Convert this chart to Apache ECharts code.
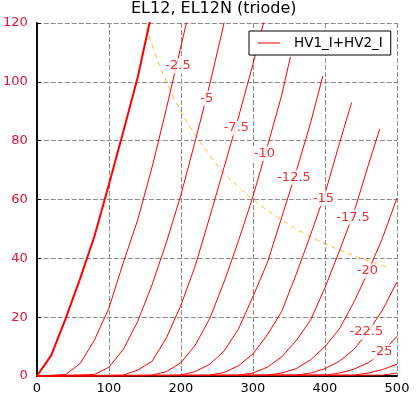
<!DOCTYPE HTML>
<html>
<head>
<meta charset="utf-8">
<title>EL12, EL12N (triode)</title>
<script src="https://cdn.jsdelivr.net/npm/echarts@6/dist/echarts.min.js"></script>
<style>
    body, div {margin: 0; padding: 0; border: 0;}
    #graphic {width: 416px; height: 398px;}
</style>
</head>
<body>
<div id="graphic"></div>
<script type="text/javascript">
// Ia (mA) vs Va (V), one curve per grid voltage
var vg_0    = [[0,0],[20,7],[40,19.5],[60,33],[80,47.5],[100,65],[120,83],[140,101.5],[160,124]];
var vg_2_5  = [[0,0],[40,0.5],[60,4.2],[80,12.2],[100,23],[120,38.5],[140,53],[160,71],[180,91],[200,112],[220,133]];
var vg_5    = [[0,0],[80,0.5],[100,3],[120,9],[140,18.5],[160,31],[180,45.5],[200,61.5],[220,80],[240,99],[260,120],[280,141]];
var vg_7_5  = [[0,0],[120,0.3],[140,2],[160,5],[180,13],[200,24],[220,37.5],[240,54],[260,71],[280,88],[300,106],[320,125]];
var vg_10   = [[0,0],[160,0.3],[180,1.5],[200,4.5],[220,10.5],[240,19.5],[260,32],[280,46],[300,61],[320,78],[340,95.5],[352,108.5]];
var vg_12_5 = [[0,0],[200,0.3],[220,1.5],[240,4],[260,8.5],[280,16],[300,27],[320,38.5],[340,54],[360,69.5],[380,86],[397,102]];
var vg_15   = [[0,0],[240,0.3],[260,1.2],[280,3.5],[300,7.5],[320,14],[340,22],[360,34.5],[380,48],[400,62],[420,79],[437,93]];
var vg_17_5 = [[0,0],[280,0.3],[300,1],[320,3],[340,6.5],[360,12],[380,19],[400,30],[420,42.5],[440,55.5],[460,71.5],[476,84]];
var vg_20   = [[0,0],[320,0.3],[340,1],[360,2.5],[380,5.5],[400,10],[420,16],[440,25],[460,35.5],[480,47],[500,60.5]];
var vg_22_5 = [[0,0],[360,0.3],[380,1],[400,2.5],[420,5],[440,9],[460,15],[480,22.5],[500,32]];
var vg_25   = [[0,0],[400,0.3],[420,1],[440,2.3],[460,4.5],[480,8],[500,13.5]];
var vg_27_5 = [[0,0],[440,0.3],[460,1],[480,2.2],[500,4]];
var vg_30   = [[0,0],[480,0.3],[500,1]];

var curves = [vg_0, vg_2_5, vg_5, vg_7_5, vg_10, vg_12_5, vg_15, vg_17_5, vg_20, vg_22_5, vg_25, vg_27_5, vg_30];

// contour labels: [Va, Ia, text]
var curveLabels = [
    [196, 105.4, '-2.5'], [236, 94.3, '-5'], [277, 84.3, '-7.5'], [316, 75.6, '-10'],
    [357, 67.6, '-12.5'], [398, 60.3, '-15'], [439, 54, '-17.5'], [459, 35.7, '-20'],
    [457.5, 15, '-22.5'], [479, 8.2, '-25']
];

// max anode dissipation
var paMax = [[152,118.5],[160,112.5],[180,100],[200,90],[220,82],[240,75],[260,69],[280,64.3],[300,60],
    [320,56.3],[340,53],[360,50],[380,47.4],[400,45],[420,42.9],[440,40.9],[460,39.1],[485,37.1]];

var xTicks = [0, 100, 200, 300, 400, 500];
var yTicks = [0, 20, 40, 60, 80, 100, 120];

var font = 'DejaVu Sans';
var series = [];
curves.forEach(function (c, i) {
    series.push({
        name: 'HV1_I+HV2_I',
        type: 'line',
        data: c,
        symbol: 'none',
        clip: true,
        z: 3,
        itemStyle: {color: 'red'},
        lineStyle: {color: 'red', width: i == 0 ? 2 : 1}
    });
});
series.push({
    name: 'Pa',
    type: 'line',
    data: paMax,
    symbol: 'none',
    smooth: true,
    z: 2,
    lineStyle: {color: '#ffa500', width: 1, type: [5, 4], opacity: 0.8}
});
series.push({
    name: 'labels',
    type: 'scatter',
    data: curveLabels,
    symbolSize: 0,
    z: 5,
    label: {
        show: true,
        position: 'inside',
        formatter: function (p) { return p.value[2]; },
        color: '#e00000',
        fontFamily: font,
        fontSize: 13,
        backgroundColor: '#fff',
        padding: [1, 2]
    }
});

option = {
    animation: false,
    backgroundColor: '#fff',
    title: {
        text: 'EL12, EL12N (triode)',
        left: 131,
        top: 1,
        padding: 0,
        textStyle: {color: '#000', fontWeight: 'normal', fontSize: 16, fontFamily: font}
    },
    legend: {
        data: [{name: 'HV1_I+HV2_I', icon: 'rect', itemStyle: {color: 'red', borderWidth: 0}}],
        left: 249,
        top: 31,
        padding: [5, 8, 5, 9],
        borderColor: '#000',
        borderWidth: 1,
        borderRadius: 0,
        backgroundColor: '#fff',
        itemWidth: 22,
        itemHeight: 1,
        textStyle: {color: '#000', fontFamily: font, fontSize: 13.5, padding: [0, 0, 0, 9]}
    },
    grid: {left: 35, right: 19, top: 23, bottom: 22},
    xAxis: [{
        type: 'value',
        min: xTicks[0],
        max: xTicks[xTicks.length - 1],
        interval: 100,
        axisLine: {show: true, onZero: false, lineStyle: {color: '#000', width: 1.5}},
        axisTick: {show: false},
        axisLabel: {color: '#000', fontFamily: font, fontSize: 13, margin: 6},
        splitLine: {show: true, lineStyle: {color: '#8c8c8c', type: [5, 2], width: 1}}
    }, {
        type: 'value',
        position: 'top',
        min: 0, max: 500,
        axisLine: {show: true, lineStyle: {color: '#000', width: 1.5}},
        axisTick: {show: false},
        axisLabel: {show: false},
        splitLine: {show: false}
    }],
    yAxis: [{
        type: 'value',
        min: yTicks[0],
        max: yTicks[yTicks.length - 1],
        interval: 20,
        axisLine: {show: true, onZero: false, lineStyle: {color: '#000', width: 1.5}},
        axisTick: {show: false},
        axisLabel: {color: '#dc143c', fontFamily: font, fontSize: 13, margin: 9},
        splitLine: {show: true, lineStyle: {color: '#8c8c8c', type: [5, 2], width: 1}}
    }, {
        type: 'value',
        position: 'right',
        min: 0, max: 120,
        interval: 20,
        axisLine: {show: true, lineStyle: {color: '#000', width: 1.5}},
        axisTick: {show: true, length: 4, lineStyle: {color: '#000', width: 1}},
        axisLabel: {show: false},
        splitLine: {show: false}
    }],
    series: series
};

var myChart = echarts.init(document.getElementById('graphic'));
myChart.setOption(option);
</script>
</body>
</html>
